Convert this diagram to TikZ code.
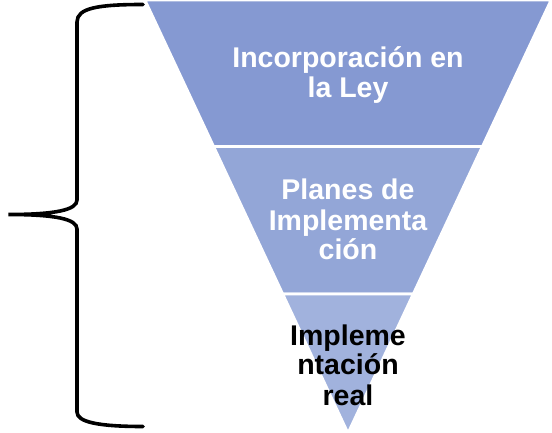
\documentclass[tikz,border=0pt]{standalone}
\usepackage{fontspec}
\setmainfont{Liberation Sans}
\definecolor{bandA}{HTML}{8599D2}
\definecolor{bandB}{HTML}{93A6D7}
\definecolor{bandC}{HTML}{A1B2DD}
\tikzset{
  band/.style={draw=white, line width=2.6pt, line join=miter},
  lbl/.style={anchor=base, inner sep=0pt, font=\fontsize{28.5}{31}\selectfont\bfseries},
  brace/.style={draw=black, line width=3.6pt, line cap=round}
}
\begin{document}
\begin{tikzpicture}[x=1pt,y=-1pt]
\useasboundingbox (0,0) rectangle (552,433);
% bands
\path[band, fill=bandA] (145,0) -- (551,0) -- (482.3,146.5) -- (213.7,146.5) -- cycle;
\path[band, fill=bandB] (213.7,146.5) -- (482.3,146.5) -- (413.2,294) -- (282.8,294) -- cycle;
\path[band, fill=bandC] (282.8,294) -- (413.2,294) -- (348,433) -- cycle;
% labels
\node[lbl, text=white] (t1a) at (348,67.5) {Incorporación en};
\node[lbl, text=white] (t1b) at (348,98) {la Ley};
\node[lbl, text=white] (t2a) at (348,200) {Planes de};
\node[lbl, text=white] (t2b) at (348,230) {Implementa};
\node[lbl, text=white] (t2c) at (348,259.5) {ción};
\node[lbl, text=black] (t3a) at (348,345) {Impleme};
\node[lbl, text=black] (t3b) at (348,374.5) {ntación};
\node[lbl, text=black] (t3c) at (348,405) {real};
% brace
\path[brace] (143,4.5) .. controls (98,4.5) and (77,8) .. (77,22)
  -- (77,200) .. controls (77,210) and (55,214.5) .. (8.5,214.5)
  .. controls (55,214.5) and (77,219) .. (77,229)
  -- (77,412) .. controls (77,422) and (98,426.5) .. (143,426.5);
\end{tikzpicture}
\end{document}
